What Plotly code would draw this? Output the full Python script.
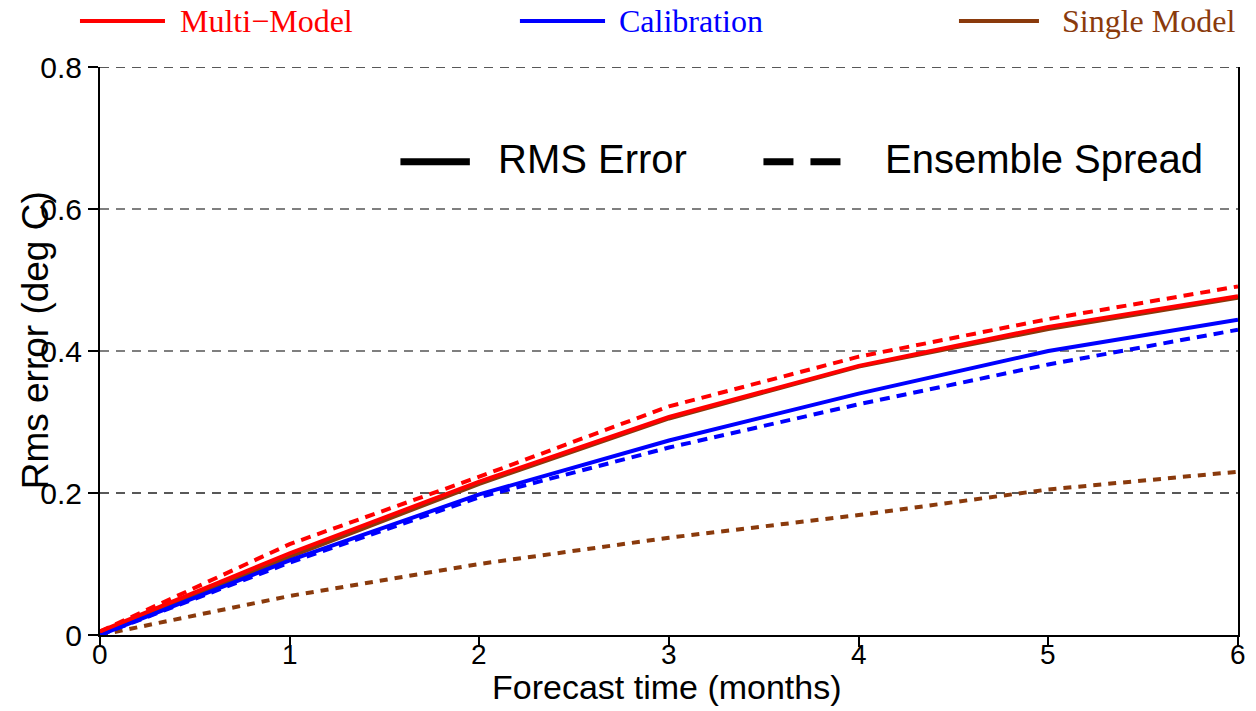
import plotly.graph_objects as go

# Forecast lead time (months)
months = [0, 1, 2, 3, 4, 5, 6]

# RMS error (solid) and ensemble spread (dashed), deg C
multi_rms = [0.005, 0.115, 0.216, 0.307, 0.379, 0.434, 0.477]
multi_spread = [0.005, 0.128, 0.223, 0.322, 0.392, 0.445, 0.491]
calib_rms = [0.0, 0.105, 0.198, 0.274, 0.340, 0.400, 0.444]
calib_spread = [0.0, 0.102, 0.194, 0.264, 0.325, 0.381, 0.430]
single_rms = [0.003, 0.110, 0.213, 0.305, 0.378, 0.431, 0.475]
single_spread = [0.0, 0.055, 0.100, 0.137, 0.169, 0.205, 0.230]

y_ticks = [0, 0.2, 0.4, 0.6, 0.8]
y_ticklabels = ["0", "0.2", "0.4", "0.6", "0.8"]
x_ticks = [0, 1, 2, 3, 4, 5, 6]
x_ticklabels = ["0", "1", "2", "3", "4", "5", "6"]

RED = "#ff0000"
BLUE = "#0000ff"
BROWN = "#8a3a0c"
SANS = "Liberation Sans, Arial, sans-serif"
SERIF = "Liberation Serif, Times New Roman, serif"

series = [
    ("Single Model spread", single_spread, BROWN, "8px,7px"),
    ("Single Model", single_rms, BROWN, "solid"),
    ("Calibration spread", calib_spread, BLUE, "10px,7px"),
    ("Calibration", calib_rms, BLUE, "solid"),
    ("Multi-Model", multi_rms, RED, "solid"),
    ("Multi-Model spread", multi_spread, RED, "10px,7px"),
]

fig = go.Figure()
for name, vals, color, dash in series:
    fig.add_trace(go.Scatter(
        x=months, y=vals, mode="lines", name=name,
        line=dict(color=color, width=4, dash=dash),
        showlegend=False, cliponaxis=False,
    ))

shapes = []
annotations = []

# Dashed reference lines across the plot (0.2 and top one darker)
for yv in y_ticks[1:]:
    shapes.append(dict(type="line", xref="paper", yref="y", x0=0, x1=1, y0=yv, y1=yv,
                       layer="below",
                       line=dict(color="#222222" if yv in (0.2, 0.8) else "#555555",
                                 width=1.5, dash="9px,7px")))

# Top key: coloured samples with serif labels
top_key = [
    ("Multi\u2212Model", RED, -0.0176, 0.0571, 0.0685),
    ("Calibration", BLUE, 0.369, 0.4438, 0.4543),
    ("Single Model", BROWN, 0.7548, 0.8251, 0.8436),
]
for label, color, x0, x1, xt in top_key:
    shapes.append(dict(type="line", xref="paper", yref="paper",
                       x0=x0, x1=x1, y0=1.081, y1=1.081,
                       line=dict(color=color, width=4)))
    annotations.append(dict(text=label, xref="paper", yref="paper",
                            x=xt, y=1.081, xanchor="left", yanchor="middle",
                            showarrow=False,
                            font=dict(family=SERIF, size=32, color=color)))

# Inner key: line style meaning
shapes.append(dict(type="line", xref="paper", yref="paper",
                   x0=0.264, x1=0.325, y0=0.833, y1=0.833,
                   line=dict(color="black", width=7)))
annotations.append(dict(text="RMS Error", xref="paper", yref="paper",
                        x=0.348, y=0.838, xanchor="left", yanchor="middle",
                        showarrow=False, font=dict(family=SANS, size=40, color="black")))
shapes.append(dict(type="line", xref="paper", yref="paper",
                   x0=0.583, x1=0.66, y0=0.833, y1=0.833,
                   line=dict(color="black", width=7, dash="30px,17px")))
annotations.append(dict(text="Ensemble Spread", xref="paper", yref="paper",
                        x=0.688, y=0.838, xanchor="left", yanchor="middle",
                        showarrow=False, font=dict(family=SANS, size=40, color="black")))

# X tick labels placed close under the tick marks
for xv, lab in zip(x_ticks, x_ticklabels):
    annotations.append(dict(text=lab, xref="x", yref="paper", x=xv, y=-0.034,
                            xanchor="center", yanchor="middle", showarrow=False,
                            font=dict(family=SANS, size=28, color="black")))

# Axis titles
annotations.append(dict(text="Forecast time (months)", xref="paper", yref="paper",
                        x=0.498, y=-0.129, xanchor="center", yanchor="bottom",
                        showarrow=False, font=dict(family=SANS, size=34, color="black")))
annotations.append(dict(text="Rms error (deg C)", xref="paper", yref="paper",
                        x=-0.057, y=0.519, xanchor="center", yanchor="middle",
                        textangle=-90, showarrow=False,
                        font=dict(family=SANS, size=37, color="black")))

fig.update_layout(
    width=1256, height=711,
    margin=dict(l=100, r=18, t=67, b=76),
    paper_bgcolor="white", plot_bgcolor="white",
    shapes=shapes, annotations=annotations,
    showlegend=False,
    xaxis=dict(
        range=[0, 6], tickvals=x_ticks, ticks="outside", ticklen=10,
        tickcolor="black", tickwidth=1.5, showticklabels=False,
        showline=True, linecolor="black", linewidth=2, mirror=False,
        showgrid=False, zeroline=False,
    ),
    yaxis=dict(
        range=[0, 0.8], tickvals=y_ticks, ticktext=y_ticklabels,
        ticks="outside", ticklen=10, tickcolor="black", tickwidth=1.5,
        showline=True, linecolor="black", linewidth=2, mirror=True,
        showgrid=False, zeroline=False,
        tickfont=dict(family=SANS, size=30, color="black"),
    ),
)

fig.write_html("out.html")
